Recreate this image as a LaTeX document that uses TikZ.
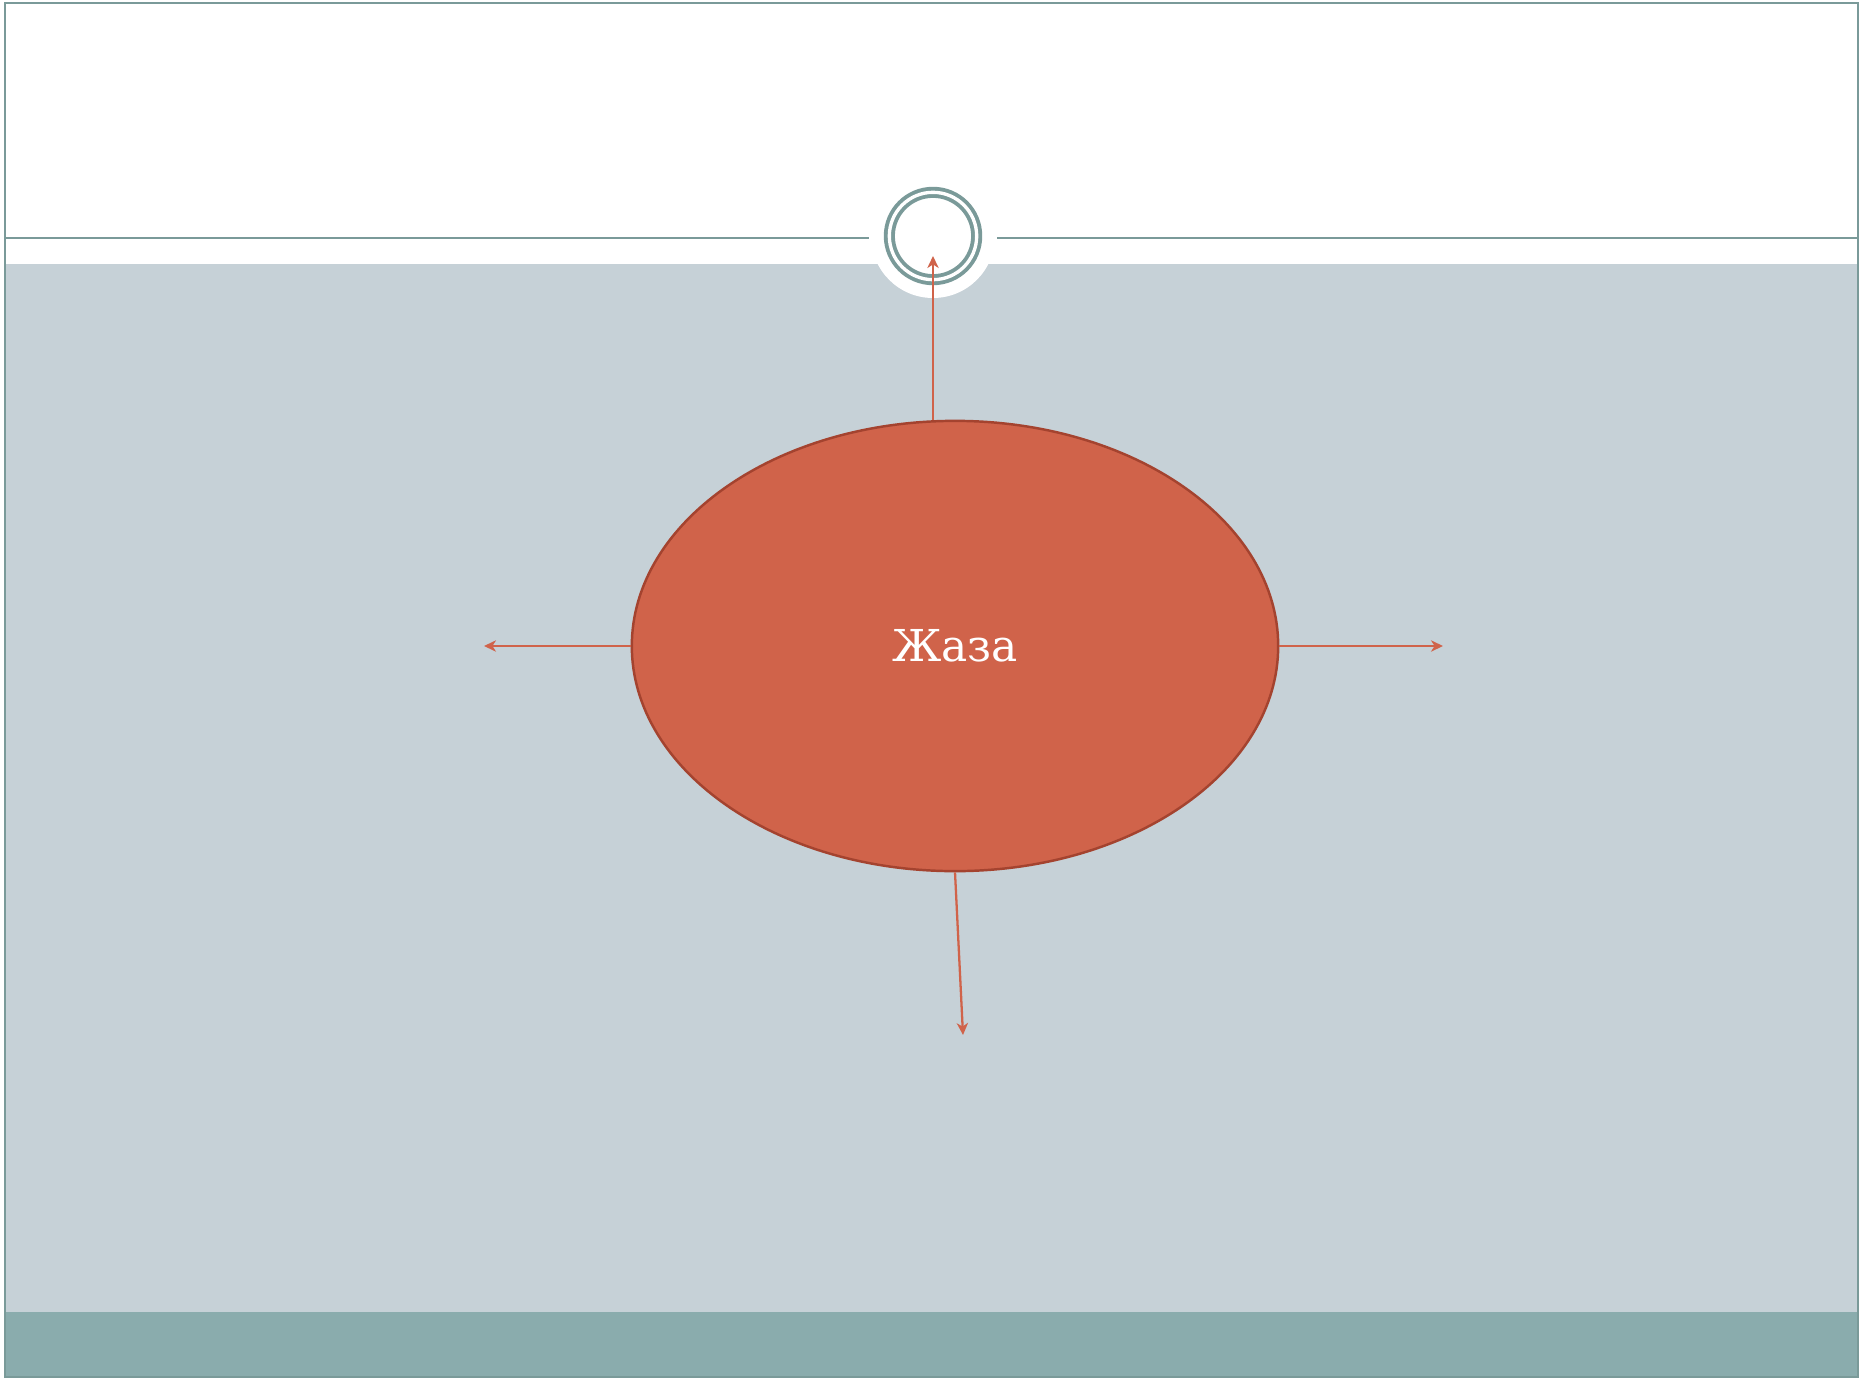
\documentclass[tikz,border=0pt]{standalone}
\usepackage{fontspec}
\setmainfont{DejaVu Serif}
\usepackage{xcolor}
\usetikzlibrary{arrows.meta,shapes.geometric}
\definecolor{framec}{HTML}{7A9A99}
\definecolor{bggray}{HTML}{C6D1D7}
\definecolor{bandc}{HTML}{8AACAD}
\definecolor{jazafill}{HTML}{D0634A}
\definecolor{jazaedge}{HTML}{A4432F}
\definecolor{arrowc}{HTML}{D0634A}

\begin{document}
\begin{tikzpicture}[x=0.01cm,y=-0.01cm,
    frameline/.style={draw=framec,line width=0.6pt},
    arr/.style={draw=arrowc,line width=0.65pt,-{Stealth[length=3.4pt,width=3.2pt,inset=1pt]}}]
  \useasboundingbox (0,0) rectangle (1861,1379);
  \fill[bggray] (5,264) rectangle (1858,1312);
  \fill[bandc] (5,1312) rectangle (1858,1377);
  \draw[frameline] (5,3) rectangle (1858,1377);
  \draw[frameline] (5,238) -- (869,238) (997,238) -- (1858,238);
  \fill[white] (933,236) circle[radius=62];
  \node[circle,draw=framec,line width=1.1pt,double=white,double distance=0.95pt,
        minimum size=0.873cm,inner sep=0] (ring) at (933,236) {};
  \node[ellipse,draw=jazaedge,fill=jazafill,line width=0.7pt,minimum width=6.46cm,
        minimum height=4.5cm,inner sep=0,text=white,font=\fontsize{12.5}{15}\selectfont]
        (jaza) at (955,646) {Жаза};
  \coordinate (uptip) at (933,256);
  \coordinate (ltip) at (484,646);
  \coordinate (rtip) at (1443,646);
  \coordinate (btip) at (963,1035);
  \draw[arr] (jaza.north -| ring.center) -- (uptip);
  \foreach \tip/\side in {ltip/west, rtip/east, btip/south}
  { \draw[arr] (jaza.\side) -- (\tip); }
\end{tikzpicture}
\end{document}
